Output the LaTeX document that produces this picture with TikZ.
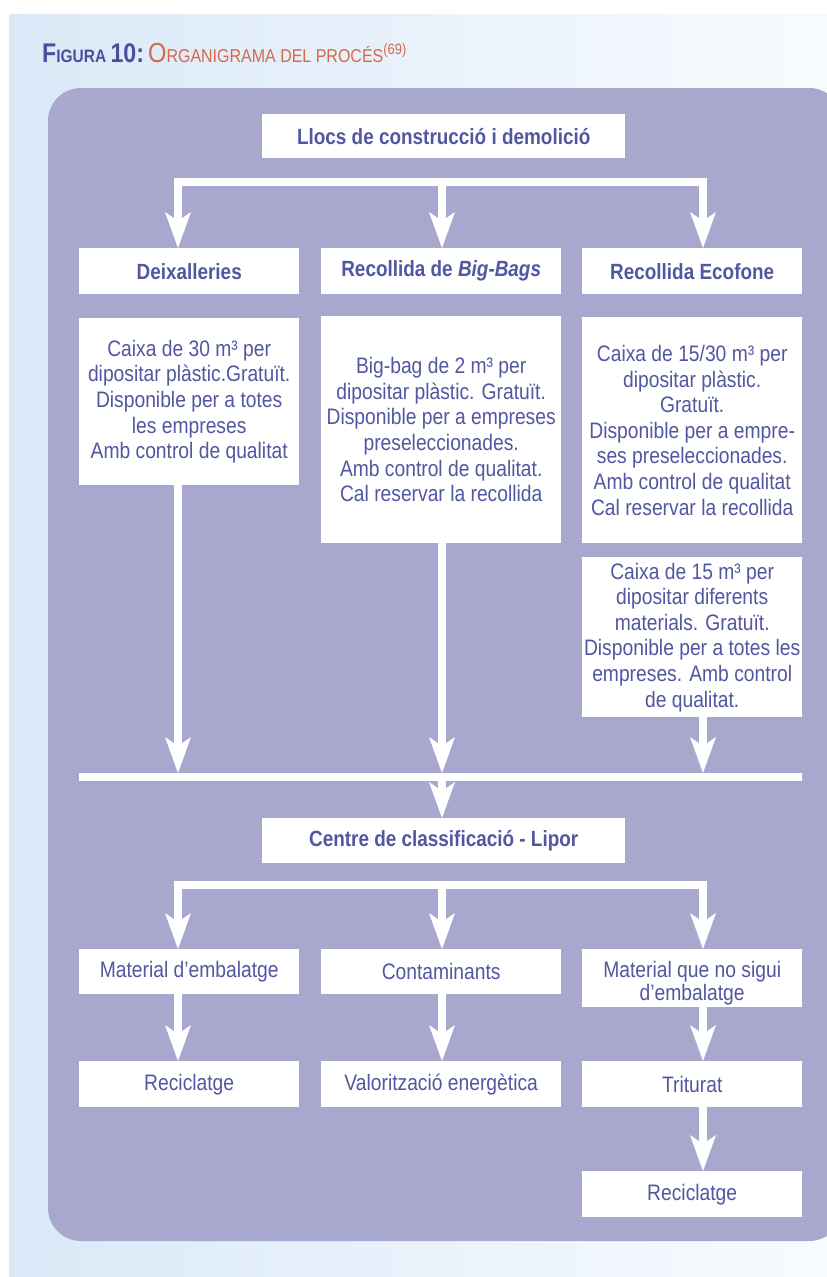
\documentclass[tikz,border=0pt]{standalone}
\usepackage{fontspec}
\setmainfont[FakeStretch=0.86]{Liberation Sans}
\usetikzlibrary{arrows.meta,calc}
\definecolor{panel}{HTML}{A8A8CE}
\definecolor{txt}{HTML}{5157A0}
\definecolor{ttlblue}{HTML}{4B509C}
\definecolor{ttlorange}{HTML}{D6694B}
\definecolor{bgl}{HTML}{DAE9F8}
\definecolor{bgr}{HTML}{F8FBFE}
\begin{document}
\begin{tikzpicture}[x=1pt,y=-1pt,
  box/.style={fill=white, inner sep=0pt, text=txt, align=center, anchor=north west,
    font=\fontsize{22.4}{25.6}\selectfont},
  hbox/.style={box, font=\fontsize{22}{25.6}\selectfont\bfseries},
  wline/.style={draw=white, line width=8pt},
  arr/.style={wline, -{Stealth[length=36pt,width=26pt,inset=9pt,line width=0pt]}},
]
\useasboundingbox (0,0) rectangle (827,1277);
\clip (0,0) rectangle (827,1277);
\fill[left color=bgl, right color=bgr] (9,14) rectangle (827,1277);
\fill[panel, rounded corners=33pt] (48,88) rectangle (842,1241);

\node[anchor=base west, inner sep=0pt] (title) at (42,62)
  {{\color{ttlblue}\bfseries\fontsize{27}{28}\selectfont F\fontsize{18}{20}\selectfont IGURA
   \fontsize{27}{28}\selectfont 10:}\hspace{4pt}{\color{ttlorange}\fontsize{27.5}{28}\selectfont O\fontsize{18.6}{20}\selectfont RGANIGRAMA DEL PROCÉS\raisebox{8pt}{\fontsize{15}{15}\selectfont(69)}}};

\node[hbox, minimum width=363pt, minimum height=44pt] (top) at (262,114) {Llocs de construcció i demolició};
\node[hbox, minimum width=220pt, minimum height=46pt] (deix) at (79,248) {Deixalleries};
\node[hbox, minimum width=240pt, minimum height=46pt] (bb) at (321,248) {Recollida de \textit{Big-Bags}};
\node[hbox, minimum width=220pt, minimum height=46pt] (eco) at (582,248) {Recollida Ecofone};
\node[box, minimum width=220pt, minimum height=167pt] (deixd) at (79,318)
  {Caixa de 30 m³ per\\dipositar plàstic.Gratuït.\\Disponible per a totes\\les empreses\\Amb control de qualitat};
\node[box, minimum width=240pt, minimum height=227pt] (bbd) at (321,316)
  {Big-bag de 2 m³ per\\dipositar plàstic. Gratuït.\\Disponible per a empreses\\preseleccionades.\\Amb control de qualitat.\\Cal reservar la recollida};
\node[box, minimum width=220pt, minimum height=226pt] (ecod) at (582,317)
  {Caixa de 15/30 m³ per\\dipositar plàstic.\\Gratuït.\\Disponible per a empre-\\ses preseleccionades.\\Amb control de qualitat\\Cal reservar la recollida};
\node[box, minimum width=220pt, minimum height=160pt] (ecod2) at (582,557)
  {Caixa de 15 m³ per\\dipositar diferents\\materials. Gratuït.\\Disponible per a totes les\\empreses. Amb control\\de qualitat.};
\node[hbox, minimum width=363pt, minimum height=45pt] (centre) at (262,818) {Centre de classificació - Lipor};
\node[box, minimum width=220pt, minimum height=45pt] (emb) at (79,949) {Material d’embalatge};
\node[box, minimum width=240pt, minimum height=45pt] (cont) at (321,949) {Contaminants};
\node[box, minimum width=220pt, minimum height=58pt, font=\fontsize{22.4}{22.5}\selectfont] (nemb) at (582,949)
  {\rule{0pt}{26pt}Material que no sigui\\d’embalatge};
\node[box, minimum width=220pt, minimum height=46pt] (rec1) at (79,1061) {Reciclatge};
\node[box, minimum width=240pt, minimum height=46pt] (val) at (321,1061) {Valorització energètica};
\node[box, minimum width=220pt, minimum height=46pt] (trit) at (582,1061) {Triturat};
\node[box, minimum width=220pt, minimum height=46pt] (rec2) at (582,1171) {Reciclatge};

\coordinate (xa) at (178,0);
\coordinate (xb) at (442,0);
\coordinate (xc) at (703,0);
\coordinate (b1) at (0,182);
\coordinate (b2) at (0,777);
\coordinate (b3) at (0,885);

\draw[wline, line cap=rect] (xa|-b1) -- (xc|-b1);
\draw[arr] (xa|-b1) -- (xa|-deix.north);
\draw[arr] (xb|-b1) -- (xb|-bb.north);
\draw[arr] (xc|-b1) -- (xc|-eco.north);

\draw[arr] (xa|-deixd.south) -- ($(xa|-b2)+(0,-4)$);
\draw[arr] (xb|-bbd.south) -- ($(xb|-b2)+(0,-4)$);
\draw[arr] (xc|-ecod2.south) -- ($(xc|-b2)+(0,-4)$);
\draw[wline] (deixd.west|-b2) -- (ecod2.east|-b2);
\draw[arr] (xb|-b2) -- (xb|-centre.north);

\draw[wline, line cap=rect] (xa|-b3) -- (xc|-b3);
\draw[arr] (xa|-b3) -- (xa|-emb.north);
\draw[arr] (xb|-b3) -- (xb|-cont.north);
\draw[arr] (xc|-b3) -- (xc|-nemb.north);

\draw[arr] (xa|-emb.south) -- (xa|-rec1.north);
\draw[arr] (xb|-cont.south) -- (xb|-val.north);
\draw[arr] (xc|-nemb.south) -- (xc|-trit.north);
\draw[arr] (xc|-trit.south) -- (xc|-rec2.north);
\end{tikzpicture}
\end{document}
